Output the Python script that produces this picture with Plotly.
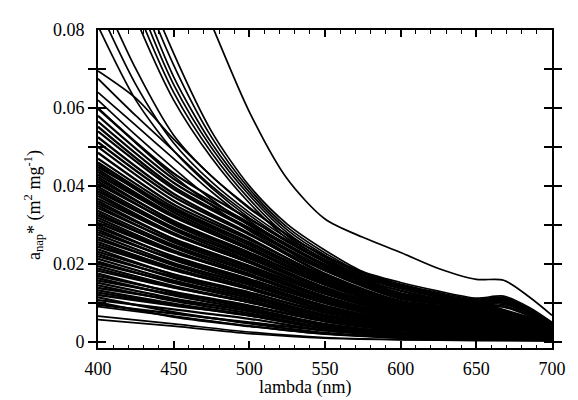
import plotly.graph_objects as go

# wavelength grids (nm)
wl_fine = [400, 425, 450, 475, 500, 525, 550, 575, 600, 625, 650, 668, 685, 700]
wl_coarse = [400, 450, 500, 550, 600, 650, 700]

# distinct upper spectra (m2 mg-1) on wl_fine
outlier = [0.200, 0.140, 0.105, 0.0815, 0.0590, 0.0418, 0.0315, 0.0268, 0.0229, 0.0188, 0.0160, 0.0158, 0.0115, 0.0068]
top1 = [0.128, 0.098, 0.074, 0.0540, 0.0400, 0.0302, 0.0235, 0.0180, 0.0152, 0.0130, 0.0112, 0.0117, 0.0088, 0.0050]
top2 = [0.124, 0.095, 0.071, 0.0525, 0.0392, 0.0294, 0.0228, 0.0176, 0.0148, 0.0126, 0.0110, 0.0114, 0.0085, 0.0048]
top3 = [0.120, 0.092, 0.068, 0.0510, 0.0384, 0.0287, 0.0222, 0.0172, 0.0144, 0.0122, 0.0106, 0.0110, 0.0082, 0.0046]
top4 = [0.116, 0.089, 0.066, 0.0498, 0.0376, 0.0280, 0.0216, 0.0168, 0.0140, 0.0118, 0.0103, 0.0106, 0.0078, 0.0044]
top5 = [0.112, 0.086, 0.064, 0.0485, 0.0366, 0.0272, 0.0210, 0.0163, 0.0136, 0.0115, 0.0100, 0.0102, 0.0075, 0.0042]
top6 = [0.108, 0.083, 0.062, 0.0472, 0.0356, 0.0265, 0.0204, 0.0158, 0.0132, 0.0111, 0.0097, 0.0099, 0.0072, 0.0040]
upper1 = [0.081, 0.062, 0.049, 0.0395, 0.0318, 0.0256, 0.0205, 0.0165, 0.0138, 0.0117, 0.0102, 0.0106, 0.0078, 0.0044]
upper2 = [0.086, 0.066, 0.051, 0.0410, 0.0332, 0.0266, 0.0212, 0.0170, 0.0142, 0.0120, 0.0105, 0.0109, 0.0080, 0.0045]
upper3 = [0.091, 0.070, 0.053, 0.0425, 0.0345, 0.0274, 0.0218, 0.0175, 0.0146, 0.0123, 0.0107, 0.0112, 0.0082, 0.0046]
high1 = [0.0695, 0.0625, 0.0520, 0.0425, 0.0342, 0.0275, 0.0220, 0.0178, 0.0145, 0.0120, 0.0104, 0.0106, 0.0078, 0.0044]
high2 = [0.0675, 0.0580, 0.0490, 0.0400, 0.0325, 0.0260, 0.0208, 0.0168, 0.0137, 0.0114, 0.0099, 0.0101, 0.0074, 0.0042]
high3 = [0.0640, 0.0555, 0.0470, 0.0385, 0.0310, 0.0248, 0.0198, 0.0160, 0.0130, 0.0109, 0.0095, 0.0096, 0.0071, 0.0040]
high4 = [0.0620, 0.0530, 0.0445, 0.0365, 0.0298, 0.0238, 0.0190, 0.0153, 0.0125, 0.0105, 0.0091, 0.0092, 0.0068, 0.0039]
high5 = [0.0600, 0.0510, 0.0425, 0.0350, 0.0285, 0.0228, 0.0182, 0.0147, 0.0120, 0.0101, 0.0088, 0.0089, 0.0066, 0.0038]

# lowest spectra, on wl_coarse
low1 = [0.0090, 0.0066, 0.0040, 0.0020, 0.0012, 0.0008, 0.0005]
low2 = [0.0066, 0.0046, 0.0025, 0.0011, 0.0006, 0.0004, 0.0003]
low3 = [0.0057, 0.0040, 0.0021, 0.0009, 0.0005, 0.0003, 0.0002]

# dense bundle of spectra, one array per wavelength of wl_coarse (same curve order in each)
dense_400 = [0.0095, 0.0101, 0.0107, 0.0114, 0.0120, 0.0126, 0.0132, 0.0138, 0.0145, 0.0151,
             0.0157, 0.0163, 0.0169, 0.0175, 0.0182, 0.0188, 0.0194, 0.0200, 0.0206, 0.0213,
             0.0219, 0.0225, 0.0231, 0.0237, 0.0244, 0.0250, 0.0256, 0.0262, 0.0268, 0.0275,
             0.0281, 0.0287, 0.0293, 0.0299, 0.0305, 0.0312, 0.0318, 0.0324, 0.0330, 0.0336,
             0.0343, 0.0349, 0.0355, 0.0361, 0.0367, 0.0374, 0.0380, 0.0386, 0.0392, 0.0398,
             0.0405, 0.0411, 0.0417, 0.0423, 0.0429, 0.0436, 0.0442, 0.0448, 0.0454, 0.0460,
             0.0470, 0.0485, 0.0500, 0.0512, 0.0525, 0.0540, 0.0552, 0.0565, 0.0580, 0.0598]
dense_450 = [0.0072, 0.0064, 0.0083, 0.0076, 0.0093, 0.0095, 0.0098, 0.0108, 0.0105, 0.0111,
             0.0122, 0.0119, 0.0128, 0.0126, 0.0139, 0.0140, 0.0143, 0.0154, 0.0151, 0.0157,
             0.0167, 0.0164, 0.0173, 0.0172, 0.0184, 0.0186, 0.0189, 0.0199, 0.0196, 0.0202,
             0.0213, 0.0210, 0.0219, 0.0217, 0.0229, 0.0231, 0.0234, 0.0245, 0.0242, 0.0248,
             0.0258, 0.0255, 0.0264, 0.0263, 0.0275, 0.0276, 0.0279, 0.0290, 0.0287, 0.0293,
             0.0304, 0.0301, 0.0310, 0.0308, 0.0320, 0.0322, 0.0325, 0.0340, 0.0332, 0.0338,
             0.0345, 0.0352, 0.0362, 0.0372, 0.0380, 0.0392, 0.0398, 0.0408, 0.0418, 0.0432]
dense_500 = [0.0050, 0.0040, 0.0059, 0.0047, 0.0068, 0.0067, 0.0068, 0.0081, 0.0073, 0.0078,
             0.0091, 0.0083, 0.0093, 0.0087, 0.0102, 0.0101, 0.0102, 0.0114, 0.0107, 0.0112,
             0.0125, 0.0117, 0.0127, 0.0121, 0.0136, 0.0135, 0.0136, 0.0148, 0.0140, 0.0146,
             0.0159, 0.0151, 0.0161, 0.0155, 0.0170, 0.0169, 0.0170, 0.0182, 0.0174, 0.0180,
             0.0192, 0.0185, 0.0195, 0.0189, 0.0204, 0.0203, 0.0204, 0.0216, 0.0208, 0.0214,
             0.0226, 0.0218, 0.0229, 0.0223, 0.0238, 0.0237, 0.0238, 0.0253, 0.0242, 0.0248,
             0.0255, 0.0262, 0.0266, 0.0275, 0.0278, 0.0288, 0.0292, 0.0300, 0.0305, 0.0315]
dense_550 = [0.0029, 0.0020, 0.0029, 0.0023, 0.0036, 0.0034, 0.0033, 0.0045, 0.0036, 0.0041,
             0.0052, 0.0043, 0.0053, 0.0045, 0.0059, 0.0057, 0.0056, 0.0069, 0.0059, 0.0064,
             0.0076, 0.0066, 0.0075, 0.0069, 0.0083, 0.0081, 0.0080, 0.0092, 0.0083, 0.0088,
             0.0099, 0.0090, 0.0100, 0.0092, 0.0106, 0.0104, 0.0103, 0.0116, 0.0106, 0.0111,
             0.0123, 0.0113, 0.0124, 0.0116, 0.0130, 0.0127, 0.0126, 0.0139, 0.0129, 0.0134,
             0.0146, 0.0137, 0.0147, 0.0139, 0.0153, 0.0151, 0.0150, 0.0162, 0.0153, 0.0158,
             0.0162, 0.0168, 0.0165, 0.0175, 0.0172, 0.0183, 0.0188, 0.0194, 0.0198, 0.0205]
dense_600 = [0.0014, 0.0010, 0.0015, 0.0011, 0.0019, 0.0017, 0.0016, 0.0024, 0.0019, 0.0022,
             0.0029, 0.0023, 0.0030, 0.0024, 0.0033, 0.0032, 0.0031, 0.0039, 0.0033, 0.0036,
             0.0043, 0.0037, 0.0044, 0.0039, 0.0047, 0.0046, 0.0045, 0.0053, 0.0047, 0.0050,
             0.0058, 0.0052, 0.0057, 0.0053, 0.0062, 0.0060, 0.0059, 0.0068, 0.0062, 0.0065,
             0.0072, 0.0066, 0.0073, 0.0068, 0.0076, 0.0075, 0.0074, 0.0082, 0.0076, 0.0079,
             0.0086, 0.0081, 0.0087, 0.0082, 0.0091, 0.0089, 0.0088, 0.0096, 0.0091, 0.0094,
             0.0096, 0.0100, 0.0098, 0.0105, 0.0102, 0.0110, 0.0113, 0.0117, 0.0120, 0.0124]
dense_650 = [0.0010, 0.0006, 0.0009, 0.0007, 0.0013, 0.0012, 0.0012, 0.0018, 0.0013, 0.0015,
             0.0021, 0.0017, 0.0022, 0.0018, 0.0025, 0.0024, 0.0023, 0.0029, 0.0025, 0.0027,
             0.0033, 0.0028, 0.0034, 0.0029, 0.0036, 0.0035, 0.0035, 0.0041, 0.0036, 0.0039,
             0.0045, 0.0040, 0.0045, 0.0041, 0.0048, 0.0047, 0.0046, 0.0053, 0.0048, 0.0050,
             0.0056, 0.0052, 0.0057, 0.0053, 0.0060, 0.0059, 0.0058, 0.0065, 0.0060, 0.0062,
             0.0068, 0.0063, 0.0068, 0.0065, 0.0072, 0.0070, 0.0070, 0.0076, 0.0072, 0.0074,
             0.0077, 0.0080, 0.0079, 0.0084, 0.0082, 0.0088, 0.0091, 0.0094, 0.0097, 0.0100]
dense_700 = [0.0006, 0.0004, 0.0006, 0.0005, 0.0007, 0.0007, 0.0006, 0.0009, 0.0007, 0.0008,
             0.0011, 0.0009, 0.0011, 0.0009, 0.0012, 0.0012, 0.0011, 0.0015, 0.0012, 0.0013,
             0.0016, 0.0014, 0.0016, 0.0015, 0.0018, 0.0017, 0.0017, 0.0020, 0.0018, 0.0019,
             0.0021, 0.0019, 0.0021, 0.0020, 0.0023, 0.0022, 0.0022, 0.0025, 0.0023, 0.0024,
             0.0027, 0.0025, 0.0027, 0.0025, 0.0028, 0.0028, 0.0027, 0.0030, 0.0028, 0.0029,
             0.0032, 0.0030, 0.0032, 0.0030, 0.0033, 0.0033, 0.0032, 0.0036, 0.0033, 0.0035,
             0.0036, 0.0037, 0.0037, 0.0039, 0.0038, 0.0040, 0.0041, 0.0042, 0.0043, 0.0044]

x_tick_vals = [400, 450, 500, 550, 600, 650, 700]
y_tick_vals = [0, 0.01, 0.02, 0.03, 0.04, 0.05, 0.06, 0.07, 0.08]
y_tick_text = ["0", "", "0.02", "", "0.04", "", "0.06", "", "0.08"]

FONT = "Liberation Serif"
TXT = dict(family=FONT, size=18, color="black")

fig = go.Figure()

def add_line(xs, ys, width, **kw):
    fig.add_trace(go.Scatter(x=xs, y=ys, mode="lines",
                             line=dict(color="black", width=width, shape="spline", smoothing=0.8),
                             hoverinfo="skip", showlegend=False, **kw))

dense_cols = [dense_400, dense_450, dense_500, dense_550, dense_600, dense_650, dense_700]
for k in range(len(dense_400)):
    add_line(wl_coarse, [col[k] for col in dense_cols], 2.3)

for curve in [low1, low2, low3]:
    add_line(wl_coarse, curve, 1.7)

for curve in [high5, high4, high3, high2, high1, upper1, upper2, upper3,
              top6, top5, top4, top3, top2, top1]:
    add_line(wl_fine, curve, 1.7)

# the outlier spectrum is drawn against the top (mirrored) x axis, which matches the bottom one
add_line(wl_fine, outlier, 1.7, xaxis="x2")

fig.update_layout(
    width=570, height=392,
    margin=dict(l=90, r=15, t=12, b=52),
    paper_bgcolor="white", plot_bgcolor="white",
    xaxis=dict(range=[400, 700], tickvals=x_tick_vals, ticks="inside", ticklen=7,
               tickwidth=1.5, tickcolor="black",
               minor=dict(dtick=10, ticklen=3.5, ticks="inside", tickcolor="black", tickwidth=1.2),
               showline=True, linecolor="black", linewidth=2, mirror=True,
               showgrid=False, zeroline=False, tickfont=TXT, ticklabelstandoff=3),
    xaxis2=dict(range=[400, 700], matches="x", overlaying="x", side="top", anchor="y",
                tickvals=x_tick_vals, ticks="inside", ticklen=7, tickwidth=1.5, tickcolor="black",
                minor=dict(dtick=10, ticklen=3.5, ticks="inside", tickcolor="black", tickwidth=1.2),
                showticklabels=False, showline=False, showgrid=False, zeroline=False),
    yaxis=dict(range=[-0.0016, 0.08], tickvals=y_tick_vals, ticktext=y_tick_text,
               ticks="inside", ticklen=8, tickwidth=1.5, tickcolor="black",
               showline=True, linecolor="black", linewidth=2, mirror="allticks",
               showgrid=False, zeroline=False, tickfont=TXT, ticklabelstandoff=8),
    annotations=[
        dict(text="lambda (nm)", xref="paper", yref="paper", x=0.456, y=-0.125,
             xanchor="center", yanchor="middle", showarrow=False, font=TXT),
        dict(text="a<sub>nap</sub>* (m<sup>2</sup> mg<sup>-1</sup>)", xref="paper", yref="paper",
             x=-0.142, y=0.448, xanchor="center", yanchor="middle", textangle=-90,
             showarrow=False, font=TXT),
    ],
)

fig.write_html("out.html")
